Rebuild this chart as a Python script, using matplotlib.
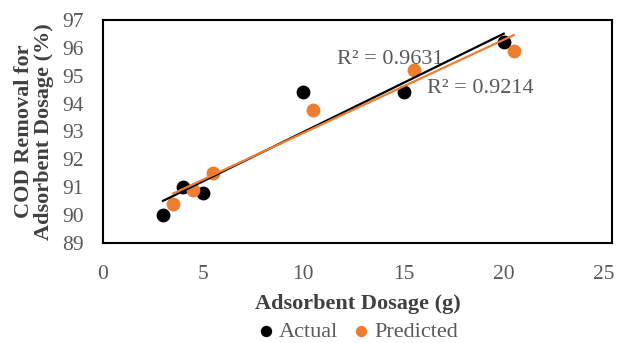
import numpy as np
import matplotlib
matplotlib.use("Agg")
import matplotlib.pyplot as plt

# values
actual_dose = [3, 4, 5, 10, 15, 20]
actual_cod = [90.0, 91.0, 90.8, 94.4, 94.4, 96.2]
pred_dose = [3.5, 4.5, 5.5, 10.5, 15.5, 20.5]
pred_cod = [90.4, 90.9, 91.5, 93.75, 95.2, 95.9]
r2_labels = ["R\u00b2 = 0.9631", "R\u00b2 = 0.9214"]

black = "black"
orange = "#ED7D31"
grey = "#595959"

plt.rcParams["font.family"] = ["Liberation Serif", "DejaVu Serif"]

fig = plt.figure(figsize=(6.2, 3.43), dpi=100)
ax = fig.add_axes([0.166, 0.292, 0.821, 0.650])

ax.scatter(actual_dose, actual_cod, s=80, color=black, zorder=3, label="Actual")
ax.scatter(pred_dose, pred_cod, s=80, color=orange, zorder=3, label="Predicted")

# linear trendlines over each series' range
for xs, ys, c in [(actual_dose, actual_cod, black), (pred_dose, pred_cod, orange)]:
    m, b = np.polyfit(xs, ys, 1)
    xx = np.array([min(xs), max(xs)])
    ax.plot(xx, m * xx + b, color=c, lw=1.6, zorder=4)

ax.text(11.7, 95.57, r2_labels[0], fontsize=16, color=grey, va="center")
ax.text(16.15, 94.53, r2_labels[1], fontsize=16, color=grey, va="center")

ax.set_xlim(0, 25.4)
ax.set_ylim(89, 97)
ax.set_xticks(range(0, 26, 5))
ax.set_yticks(range(89, 98))
ax.tick_params(length=0, labelsize=15.5, labelcolor=grey)
ax.tick_params(axis="x", pad=16)
ax.tick_params(axis="y", pad=14)
for sp in ax.spines.values():
    sp.set_linewidth(1.5)
    sp.set_color("black")

ax.set_xlabel("Adsorbent Dosage (g)", fontsize=16, fontweight="bold", color="#404040", labelpad=7)
ax.set_ylabel("COD Removal for\nAdsorbent Dosage (%)", fontsize=16, fontweight="bold",
              color="#404040", labelpad=6, linespacing=1.0)

ax.legend(loc="center", bbox_to_anchor=(0.5, -0.40), ncol=2, frameon=False, fontsize=16,
          handlelength=0.8, handletextpad=0.2, columnspacing=0.6, markerscale=0.8,
          labelcolor=grey, borderpad=0.1)

fig.savefig("out.png", dpi=100)
